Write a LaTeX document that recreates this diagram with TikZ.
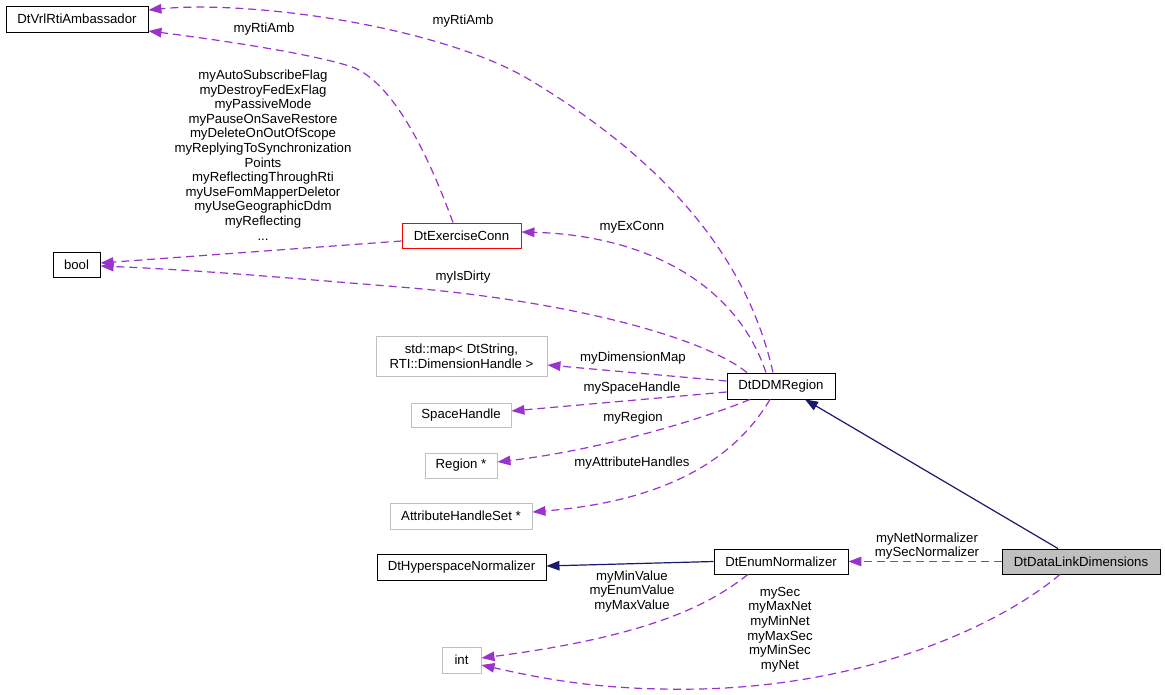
\documentclass[tikz,border=0pt]{standalone}
\usepackage{fontspec}
\setmainfont{Liberation Sans}
\usetikzlibrary{arrows.meta}
\definecolor{purp}{RGB}{154,50,205}
\definecolor{navyb}{RGB}{25,25,112}
\definecolor{greyb}{RGB}{191,191,191}
\newcommand{\lblfont}{\fontsize{13.2}{14.6}\selectfont}
\tikzset{
  box/.style={draw=black, line width=0.9pt, inner sep=0pt, font=\lblfont, align=center, fill=white},
  gbox/.style={box, draw=greyb},
  rbox/.style={box, draw=red},
  cbox/.style={box, fill=greyb},
  lab/.style={font=\lblfont, align=center, inner sep=0pt},
  uses/.style={draw=purp, line width=1.2pt, dash pattern=on 8pt off 5pt, -{Triangle[length=13pt,width=9.5pt]}, fill=none},
  inh/.style={draw=navyb, line width=1.2pt, -{Triangle[length=13pt,width=9.5pt,fill=navyb]}},
}
\begin{document}
\begin{tikzpicture}[x=1pt,y=-1pt]
\useasboundingbox (0,0) rectangle (1165,695);
\fill[white] (0,0) rectangle (1165,695);

% nodes
\node[box, minimum width=142pt, minimum height=26pt] (vrl) at (77,19) {DtVrlRtiAmbassador};
\node[box, minimum width=47pt, minimum height=25pt] (bool) at (76.5,264.5) {bool};
\node[rbox, minimum width=119pt, minimum height=25pt] (exconn) at (461.5,235.5) {DtExerciseConn};
\node[gbox, minimum width=171pt, minimum height=40pt] (map) at (461.5,356) {std::map< DtString,\\ RTI::DimensionHandle >};
\node[gbox, minimum width=100pt, minimum height=24pt] (space) at (461,415) {SpaceHandle};
\node[gbox, minimum width=72pt, minimum height=25pt] (region) at (461,465.5) {Region *};
\node[gbox, minimum width=142pt, minimum height=26pt] (ahs) at (461,516) {AttributeHandleSet *};
\node[box, minimum width=108pt, minimum height=26pt] (ddm) at (781,386) {DtDDMRegion};
\node[box, minimum width=169pt, minimum height=26pt] (hyper) at (461.5,567) {DtHyperspaceNormalizer};
\node[box, minimum width=134pt, minimum height=25pt] (enum) at (781,561.5) {DtEnumNormalizer};
\node[cbox, minimum width=158pt, minimum height=25pt] (dld) at (1081,561.5) {DtDataLinkDimensions};
\node[gbox, minimum width=39pt, minimum height=26pt] (int) at (461.5,660) {int};

% edges
\draw[uses] ([xshift=-8pt]ddm.north) .. controls (750,270) and (680,170) .. (530,80)
   .. controls (440,26) and (250,0) .. ([yshift=9pt]vrl.east);
\draw[uses] ([xshift=-8.5pt]exconn.north) .. controls (432,165) and (398,88) .. (355,68)
   .. controls (320,55) and (220,40) .. ([yshift=-12pt]vrl.east);
\draw[uses] ([yshift=-5.5pt]exconn.west) -- ([yshift=1.5pt]bool.east);
\draw[uses] ([xshift=-15pt]ddm.north) .. controls (735,280) and (640,235) .. ([yshift=3.5pt]exconn.east);
\draw[uses] ([xshift=-34pt]ddm.north) .. controls (700,335) and (560,300) .. (400,287)
   .. controls (300,279) and (200,270) .. ([yshift=-1.5pt]bool.east);
\draw[uses] ([yshift=5pt]ddm.west) -- ([yshift=-9pt]map.east);
\draw[uses] ([yshift=-6pt]ddm.west) -- ([yshift=4pt]space.east);
\draw[uses] ([xshift=-31pt]ddm.south) .. controls (700,420) and (600,450) .. ([yshift=3.5pt]region.east);
\draw[uses] ([xshift=-11pt]ddm.south) .. controls (740,450) and (680,500) .. ([yshift=4pt]ahs.east);
\draw[inh] ([xshift=-23pt]dld.north) -- ([xshift=24pt]ddm.south);
\draw[inh] (enum.west) -- ([yshift=1pt]hyper.east);
\draw[uses] (dld.west) -- (enum.east);
\draw[uses] ([xshift=-33pt]enum.south) .. controls (715,600) and (660,635) .. ([yshift=2pt]int.east);
\draw[uses] ([xshift=-21pt]dld.south) .. controls (1000,625) and (870,685) .. (700,689)
   .. controls (600,691) and (540,678) .. ([yshift=-5pt]int.east);

% labels
\node[lab] (lRti1) at (463,21) {myRtiAmb};
\node[lab] (lRti2) at (264,29) {myRtiAmb};
\node[lab] (lBool) at (263,155) {myAutoSubscribeFlag\\myDestroyFedExFlag\\myPassiveMode\\myPauseOnSaveRestore\\myDeleteOnOutOfScope\\myReplyingToSynchronization\\Points\\myReflectingThroughRti\\myUseFomMapperDeletor\\myUseGeographicDdm\\myReflecting\\...};
\node[lab] (lEx) at (632,227) {myExConn};
\node[lab] (lDirty) at (463,277) {myIsDirty};
\node[lab] (lDim) at (633,358) {myDimensionMap};
\node[lab] (lSpace) at (632,388) {mySpaceHandle};
\node[lab] (lReg) at (633,418) {myRegion};
\node[lab] (lAttr) at (632,463) {myAttributeHandles};
\node[lab] (lNorm) at (927,546) {myNetNormalizer\\mySecNormalizer};
\node[lab] (lVal) at (632,591.5) {myMinValue\\myEnumValue\\myMaxValue};
\node[lab] (lNet) at (780,629.5) {mySec\\myMaxNet\\myMinNet\\myMaxSec\\myMinSec\\myNet};
\end{tikzpicture}
\end{document}
